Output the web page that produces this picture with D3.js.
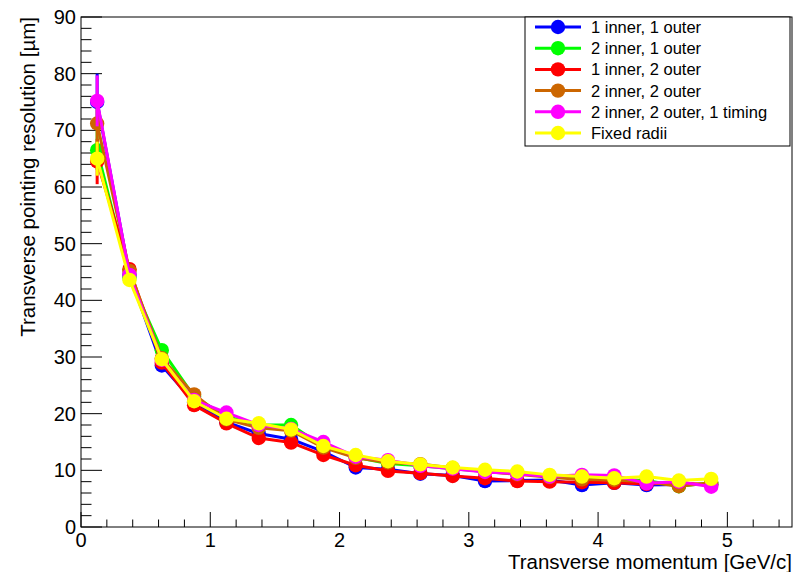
<!DOCTYPE html>
<html>
<head>
<meta charset="utf-8">
<script src="https://cdn.jsdelivr.net/npm/d3@7"></script>
<style>
  html, body { margin: 0; padding: 0; background: #fff; }
  svg { display: block; font-family: "Liberation Sans", Arial, sans-serif; }
</style>
</head>
<body>
<svg id="chart" width="794" height="572"></svg>
<script>
// Transverse momentum bin centres [GeV/c]
const pt = [0.125, 0.375, 0.625, 0.875, 1.125, 1.375, 1.625, 1.875, 2.125, 2.375,
            2.625, 2.875, 3.125, 3.375, 3.625, 3.875, 4.125, 4.375, 4.625, 4.875];

// Pointing resolution [µm] per layout
const oneInnerOneOuter = [75.0, 44.5, 28.5, 22.0, 18.5, 16.5, 15.5, 13.3, 10.5, 10.2,
                          9.4, 9.1, 8.1, 8.2, 8.3, 7.4, 7.8, 7.4, 7.5, 7.5];
const twoInnerOneOuter = [66.5, 44.0, 31.2, 23.0, 19.5, 18.0, 18.0, 14.2, 12.3, 11.2,
                          10.8, 10.3, 9.8, 9.4, 9.0, 8.6, 8.4, 8.2, 7.2, 7.8];
const oneInnerTwoOuter = [64.5, 45.5, 29.0, 21.5, 18.3, 15.7, 14.9, 12.7, 10.9, 9.9,
                          9.5, 9.0, 8.6, 8.1, 8.0, 7.9, 7.8, 7.6, 7.8, 7.4];
const twoInnerTwoOuter = [71.2, 45.2, 29.8, 23.4, 19.0, 17.5, 17.0, 14.0, 12.2, 11.4,
                          11.1, 10.4, 9.8, 9.3, 8.8, 8.4, 8.3, 8.0, 7.2, 7.8];
const withTiming       = [75.2, 44.5, 29.5, 22.4, 20.2, 18.0, 17.3, 15.0, 12.4, 11.8,
                          10.8, 10.3, 9.7, 9.4, 8.9, 9.2, 9.1, 7.7, 8.0, 7.1];
const fixedRadii       = [65.0, 43.6, 29.6, 22.2, 19.1, 18.3, 17.2, 14.3, 12.7, 11.6,
                          11.05, 10.5, 10.1, 9.8, 9.2, 8.9, 8.6, 8.9, 8.2, 8.5];

// Statistical uncertainties (only the lowest bin is visibly large)
const errFirstBin = [5.0, 3.5, 4.0, 3.5, 4.5, 3.0];
const errOther = 0.3;

const seriesNames = ["1 inner, 1 outer", "2 inner, 1 outer", "1 inner, 2 outer",
                     "2 inner, 2 outer", "2 inner, 2 outer, 1 timing", "Fixed radii"];
const seriesValues = [oneInnerOneOuter, twoInnerOneOuter, oneInnerTwoOuter,
                      twoInnerTwoOuter, withTiming, fixedRadii];
const seriesColors = ["#0000ff", "#00ff00", "#ff0000", "#cc6600", "#ff00ff", "#ffff00"];

const xTicks = [0, 1, 2, 3, 4, 5];
const yTicks = [0, 10, 20, 30, 40, 50, 60, 70, 80, 90];
const xTitle = "Transverse momentum [GeV/c]";
const yTitle = "Transverse pointing resolution [µm]";

const frame = { left: 81, right: 792, top: 17, bottom: 527 };
const x = d3.scaleLinear().domain([0, 5.5]).range([frame.left, frame.right]);
const y = d3.scaleLinear().domain([0, 90]).range([frame.bottom, frame.top]);

const svg = d3.select("#chart");

// Frame box
svg.append("rect")
  .attr("x", frame.left).attr("y", frame.top)
  .attr("width", frame.right - frame.left).attr("height", frame.bottom - frame.top)
  .attr("fill", "none").attr("stroke", "#000").attr("stroke-width", 1);

// Ticks drawn inward, major and minor
const gTicks = svg.append("g").attr("stroke", "#000").attr("stroke-width", 1);
const xMinor = d3.range(0, 5.5001, 0.2);
gTicks.selectAll(".xt").data(xMinor).join("line")
  .attr("x1", d => x(d)).attr("x2", d => x(d))
  .attr("y1", frame.bottom)
  .attr("y2", d => frame.bottom - (Math.abs(d - Math.round(d)) < 1e-6 ? 15 : 7.5));
const yMinor = d3.range(0, 90.001, 2);
gTicks.selectAll(".yt").data(yMinor).join("line")
  .attr("y1", d => y(d)).attr("y2", d => y(d))
  .attr("x1", frame.left)
  .attr("x2", d => frame.left + (d % 10 === 0 ? 21 : 10.5));

// Tick labels
svg.append("g").selectAll("text").data(xTicks).join("text")
  .attr("x", d => x(d)).attr("y", frame.bottom + 20)
  .attr("text-anchor", "middle").attr("font-size", 20).attr("fill", "#000")
  .text(d => d);
svg.append("g").selectAll("text").data(yTicks).join("text")
  .attr("x", frame.left - 5).attr("y", d => y(d) + 7)
  .attr("text-anchor", "end").attr("font-size", 20).attr("fill", "#000")
  .text(d => d);

// Axis titles
svg.append("text")
  .attr("x", frame.right).attr("y", 569)
  .attr("text-anchor", "end").attr("font-size", 20.5).attr("fill", "#000")
  .text(xTitle);
svg.append("text")
  .attr("transform", `translate(35,${frame.top}) rotate(-90)`)
  .attr("text-anchor", "end").attr("font-size", 20.5).attr("fill", "#000")
  .text(yTitle);

// Series: line, error bars, markers
const line = d3.line().x((d, i) => x(pt[i])).y(d => y(d));
seriesValues.forEach((vals, s) => {
  const g = svg.append("g");
  const col = seriesColors[s];
  g.append("path").datum(vals).attr("d", line)
    .attr("fill", "none").attr("stroke", col).attr("stroke-width", 3)
    .attr("stroke-linejoin", "round");
  g.selectAll("line.err").data(vals).join("line")
    .attr("x1", (d, i) => x(pt[i])).attr("x2", (d, i) => x(pt[i]))
    .attr("y1", (d, i) => y(d + (i === 0 ? errFirstBin[s] : errOther)))
    .attr("y2", (d, i) => y(d - (i === 0 ? errFirstBin[s] : errOther)))
    .attr("stroke", col).attr("stroke-width", 3);
  g.selectAll("circle").data(vals).join("circle")
    .attr("cx", (d, i) => x(pt[i])).attr("cy", d => y(d))
    .attr("r", 7.2).attr("fill", col);
});

// Legend
const leg = svg.append("g");
leg.append("rect")
  .attr("x", 525).attr("y", frame.top).attr("width", 265).attr("height", 129)
  .attr("fill", "#fff").attr("stroke", "#000").attr("stroke-width", 1);
seriesNames.forEach((name, i) => {
  const cy = 27 + i * 21.2;
  leg.append("line").attr("x1", 535).attr("x2", 581).attr("y1", cy).attr("y2", cy)
    .attr("stroke", seriesColors[i]).attr("stroke-width", 3);
  leg.append("circle").attr("cx", 558).attr("cy", cy).attr("r", 7.2)
    .attr("fill", seriesColors[i]);
  leg.append("text").attr("x", 591).attr("y", cy + 6)
    .attr("font-size", 16.5).attr("fill", "#000").text(name);
});
</script>
</body>
</html>
